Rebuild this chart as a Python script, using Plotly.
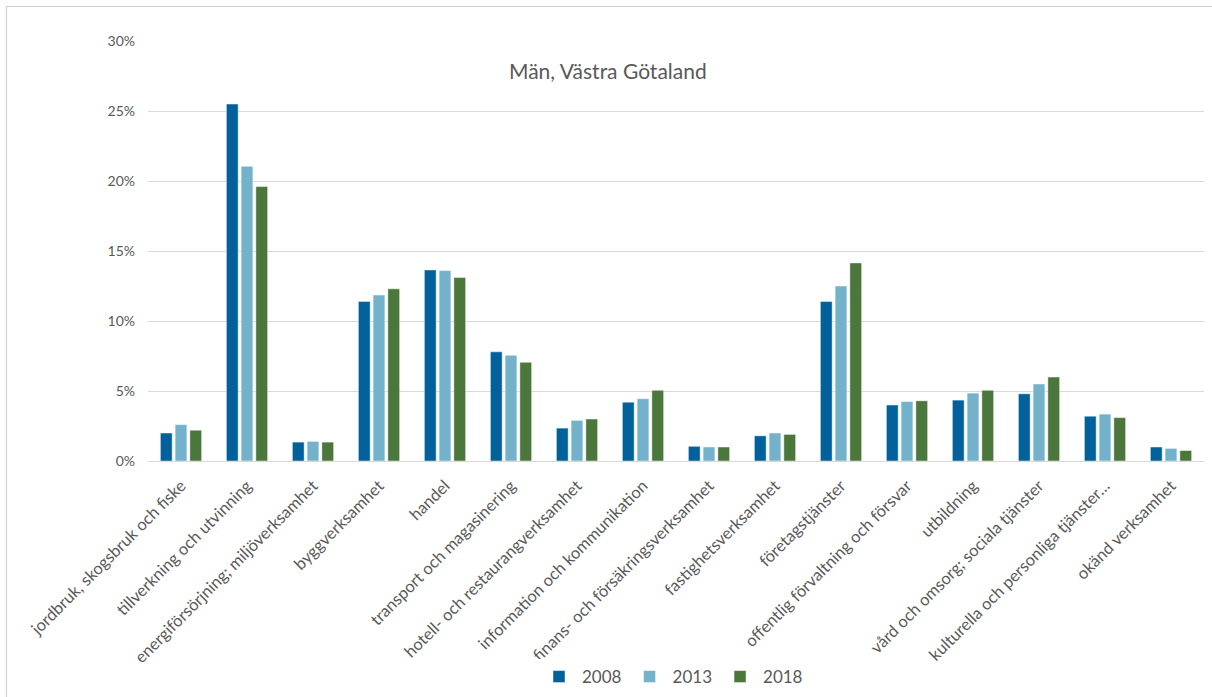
import plotly.graph_objects as go

# Sector labels (x axis)
sectors = [
    "jordbruk, skogsbruk och fiske",
    "tillverkning och utvinning",
    "energiförsörjning; miljöverksamhet",
    "byggverksamhet",
    "handel",
    "transport och magasinering",
    "hotell- och restaurangverksamhet",
    "information och kommunikation",
    "finans- och försäkringsverksamhet",
    "fastighetsverksamhet",
    "företagstjänster",
    "offentlig förvaltning och försvar",
    "utbildning",
    "vård och omsorg; sociala tjänster",
    "kulturella och personliga tjänster m.m.",
    "okänd verksamhet",
]
tick_text = sectors[:14] + ["kulturella och personliga tjänster…", sectors[15]]

# Share of employed men per sector, percent
share_2008 = [2.0, 25.5, 1.35, 11.4, 13.65, 7.8, 2.35, 4.2, 1.05, 1.8, 11.4, 4.0, 4.35, 4.8, 3.2, 1.0]
share_2013 = [2.6, 21.05, 1.4, 11.85, 13.6, 7.55, 2.9, 4.45, 1.0, 2.0, 12.5, 4.25, 4.85, 5.5, 3.35, 0.9]
share_2018 = [2.2, 19.6, 1.35, 12.3, 13.1, 7.05, 3.0, 5.05, 1.0, 1.9, 14.15, 4.3, 5.05, 6.0, 3.1, 0.75]

years = ["2008", "2013", "2018"]
colors = ["#02619A", "#74B1CA", "#4B773C"]
series = [share_2008, share_2013, share_2018]

font_family = "Lato, sans-serif"
text_grey = "#595959"

fig = go.Figure()
for name, vals, col in zip(years, series, colors):
    fig.add_trace(go.Bar(
        x=sectors,
        y=vals,
        name=name,
        marker=dict(color=col, line=dict(color="rgba(255,255,255,0.6)", width=0.8)),
        hovertemplate="%{x}: %{y:.1f}%<extra>" + name + "</extra>",
    ))

# Outer chart frame
fig.add_shape(type="rect", xref="paper", yref="paper",
              x0=(6.5 - 148) / 1056, x1=(1230 - 148) / 1056,
              y0=(461 - 720) / 420, y1=(461 - 6.5) / 420,
              line=dict(color="#D0D0D0", width=1.2), fillcolor="rgba(0,0,0,0)",
              layer="below")

fig.add_annotation(
    text="Män, Västra Götaland", xref="paper", yref="paper",
    x=(608 - 148) / 1056, y=(461 - 71) / 420, xanchor="center", yanchor="middle",
    showarrow=False, font=dict(family=font_family, size=21, color=text_grey),
)

fig.update_layout(
    width=1212, height=697,
    margin=dict(l=148, r=8, t=41, b=236, autoexpand=False),
    paper_bgcolor="white", plot_bgcolor="white",
    barmode="group", bargap=0.33, bargroupgap=0.2,
    font=dict(family=font_family, color=text_grey),
    showlegend=True,
    legend=dict(orientation="h", x=(672 - 148) / 1056, xanchor="center",
                y=(461 - 677) / 420, yanchor="middle",
                font=dict(size=17, color=text_grey),
                itemwidth=36, traceorder="normal", itemclick=False),
    xaxis=dict(
        tickmode="array", tickvals=sectors, ticktext=tick_text,
        tickangle=-45, tickfont=dict(family=font_family, size=16.5, color=text_grey),
        showgrid=False, showline=False, ticks="", zeroline=False,
        range=[-0.5, len(sectors) - 0.5], automargin=False,
        ticklabelstandoff=11,
    ),
    yaxis=dict(
        range=[0, 30], dtick=5, ticksuffix="%",
        tickfont=dict(size=14, color=text_grey),
        showgrid=True, gridcolor="#D9D9D9", gridwidth=1,
        zeroline=True, zerolinecolor="#D9D9D9", zerolinewidth=1,
        showline=False, ticks="", ticklabelstandoff=12, automargin=False,
    ),
)

fig.write_html("out.html")
